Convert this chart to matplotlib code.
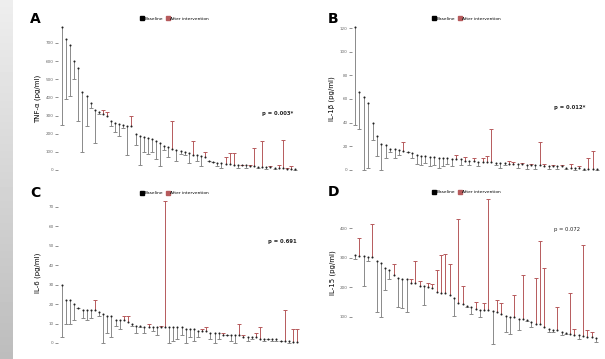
import numpy as np
import matplotlib.pyplot as plt
from matplotlib.lines import Line2D

W, H = 605, 359

# A: TNF-alpha, subjects sorted by baseline
tnf_base = [790, 720, 690, 600, 560, 430, 410, 370, 330, 320, 310, 300, 270, 260, 255,
            250, 245, 240, 200, 190, 180, 178, 170, 160, 150, 130, 125, 115, 110, 105,
            100, 95, 85, 80, 75, 70, 50, 45, 40, 38, 35, 33, 30, 28, 26, 25, 22, 20,
            18, 17, 15, 14, 12, 11, 10, 8, 6, 5]
tnf_after = [250, 390, 410, 500, 270, 100, 240, 340, 150, 310, 330, 320, 240, 210, 190,
             230, 80, 300, 140, 30, 100, 90, 100, 60, 20, 110, 70, 270, 50, 90,
             80, 40, 160, 50, 20, 100, 50, 45, 20, 10, 70, 95, 95, 10, 30, 10, 30, 120,
             10, 160, 5, 20, 5, 30, 165, 10, 20, 0]

# B: IL-1beta
il1_base = [121, 66, 62, 57, 40, 29, 22, 21, 18, 18, 17, 16, 15, 14, 13, 12, 12, 11, 11,
            10, 10, 10, 9, 9, 9, 8, 8, 8, 7, 7, 7, 7, 6, 6, 6, 5, 5, 5, 5, 4, 4, 4, 4,
            3, 3, 3, 3, 3, 2, 2, 2, 2, 1, 1, 1, 0.5]
il1_after = [38, 35, 0, 2, 25, 12, 0, 10, 15, 10, 13, 24, 15, 10, 5, 4, 6, 3, 4,
             2, 3, 5, 3, 13, 4, 11, 4, 10, 3, 10, 12, 35, 4, 2, 4, 8, 7, 2, 6, 1, 5, 1, 24,
             5, 1, 4, 1, 4, 1, 5, 0, 3, 0, 10, 16, 0]

# C: IL-6
il6_base = [30, 22, 22, 20, 18, 17, 17, 17, 17, 16, 15, 14, 14, 12, 12, 12, 11, 10, 9, 9,
            8, 8, 8, 8, 8, 8, 8, 8, 8, 8, 7, 7, 7, 6, 6, 6, 5, 5, 5, 4, 4, 4, 4, 4,
            3, 3, 3, 3, 2, 2, 2, 2, 2, 1, 1, 1, 0.5, 0.5]
il6_after = [3, 10, 10, 12, 18, 13, 12, 13, 22, 14, 0, 5, 3, 9, 7, 14, 14, 9, 5, 8,
             5, 10, 6, 4, 9, 73, 0, 1, 2, 4, 0, 3, 1, 3, 7, 8, 2, 0, 2, 5, 4, 1, 0, 10,
             4, 1, 2, 5, 8, 1, 2, 1, 1, 1, 17, 0, 7, 7]

# D: IL-15
il15_base = [310, 307, 305, 303, 302, 288, 282, 265, 260, 243, 232, 228, 227, 215, 213,
             206, 204, 200, 198, 185, 182, 180, 174, 163, 148, 143, 136, 134, 128, 125,
             122, 122, 120, 117, 111, 102, 100, 100, 94, 94, 89, 83, 77, 75, 66, 60, 57,
             55, 49, 45, 43, 41, 38, 35, 34, 32, 30]
il15_after = [295, 365, 205, 290, 415, 117, 100, 190, 227, 278, 135, 130, 117, 227, 290,
              220, 142, 213, 210, 258, 310, 314, 278, 105, 430, 205, 134, 111, 150, 100,
              146, 498, 9, 157, 148, 49, 43, 174, 55, 242, 85, 66, 231, 356, 265, 49, 50,
              134, 38, 42, 180, 60, 26, 344, 55, 50, 15]

panels = [
    dict(letter="A", base=tnf_base, after=tnf_after, ylabel="TNF-α (pg/ml)",
         ticks=np.arange(0, 701, 100), box=(58, 298, 22, 176), xr=(62, 295),
         ref=(0, 170, 700, 43), p="p = 0.003*", pbold=True, ppos=(293, 113),
         lpos=(175, 19), ylx=38),
    dict(letter="B", base=il1_base, after=il1_after, ylabel="IL-1β (pg/ml)",
         ticks=np.arange(0, 121, 20), box=(352, 600, 22, 176), xr=(355, 597),
         ref=(0, 170, 120, 28), p="p = 0.012*", pbold=True, ppos=(585, 108),
         lpos=(467, 19), ylx=332),
    dict(letter="C", base=il6_base, after=il6_after, ylabel="IL-6 (pg/ml)",
         ticks=np.arange(0, 71, 10), box=(58, 300, 198, 348), xr=(62, 297),
         ref=(0, 343, 70, 207), p="p = 0.691", pbold=True, ppos=(297, 242),
         lpos=(175, 193), ylx=38),
    dict(letter="D", base=il15_base, after=il15_after, ylabel="IL-15 (pg/ml)",
         ticks=np.arange(100, 401, 100), box=(352, 600, 196, 350), xr=(355, 596),
         ref=(100, 317, 400, 228), p="p = 0.072", pbold=False, ppos=(580, 230),
         lpos=(467, 192), ylx=333),
]

red = "#b65a5c"
gray = "#8a8a8a"

fig = plt.figure(figsize=(6.05, 3.59), dpi=100)

# grey strip on the left edge
strip = fig.add_axes([0, 0, 13 / W, 1])
strip.imshow(np.linspace(0.93, 0.74, 50).reshape(-1, 1), cmap="gray", vmin=0, vmax=1,
             aspect="auto", extent=[0, 1, 0, 1])
strip.axis("off")

for pn in panels:
    x0, x1, yt, yb = pn["box"]
    ax = fig.add_axes([x0 / W, 1 - yb / H, (x1 - x0) / W, (yb - yt) / H])
    v0, p0, v1, p1 = pn["ref"]
    s = (p0 - p1) / (v1 - v0)
    ax.set_ylim(v0 - (yb - p0) / s, v1 + (p1 - yt) / s)
    n = len(pn["base"])
    xf, xl = pn["xr"]
    sx = (xl - xf) / (n - 1)
    ax.set_xlim(-(xf - x0) / sx, n - 1 + (x1 - xl) / sx)

    xs = np.arange(n)
    for i, (b, a) in enumerate(zip(pn["base"], pn["after"])):
        c = red if a > b else gray
        ax.plot([i, i], [b, a], color=c, lw=0.7, solid_capstyle="butt")
        ax.plot(i, a, marker="_", ms=2.6, mew=0.7, color=c)
    ax.scatter(xs, pn["base"], s=2.2, color="#222222", zorder=3, linewidths=0)

    for sp in ax.spines.values():
        sp.set_visible(False)
    ax.set_xticks([])
    ax.set_yticks(pn["ticks"])
    ax.tick_params(axis="y", length=2, width=0.5, labelsize=3, pad=1, colors="#666666")

    fig.text(pn["ylx"] / W, 1 - ((yt + yb) / 2) / H, pn["ylabel"], rotation=90,
             fontsize=5, ha="center", va="center")
    lx = x0 - 28 if pn["letter"] in "AC" else x0 - 24
    fig.text(lx / W, 1 - (pn["lpos"][1]) / H, pn["letter"], fontsize=10,
             fontweight="bold", ha="left", va="center")
    fig.text(pn["ppos"][0] / W, 1 - pn["ppos"][1] / H, pn["p"], fontsize=3.8,
             fontweight="bold" if pn["pbold"] else "normal", ha="right", va="center",
             color="#222222")

    handles = [Line2D([], [], ls="none", marker="s", ms=2.2, color="black"),
               Line2D([], [], ls="none", marker="s", ms=2.2, color=red)]
    fig.legend(handles, ["Baseline", "After intervention"], loc="center",
               bbox_to_anchor=(pn["lpos"][0] / W, 1 - pn["lpos"][1] / H), ncol=2,
               fontsize=3.2, frameon=False, handletextpad=0.2, columnspacing=0.8,
               handlelength=0.6, borderpad=0)

fig.savefig("out.png", dpi=100, facecolor="white")
